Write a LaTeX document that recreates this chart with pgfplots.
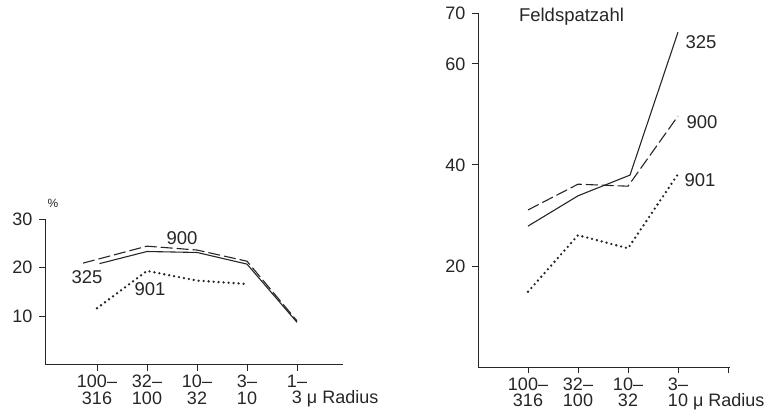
\documentclass[border=0pt]{standalone}
\usepackage{pgfplots}
\pgfplotsset{compat=1.18}
\usepackage{fontspec}
\setmainfont{Liberation Sans}
\begin{document}
\begin{tikzpicture}
\useasboundingbox (0,0) rectangle (778pt,-414pt);
\pgfplotsset{
  chart/.style={
    axis lines*=left,
    axis line style={-, line width=1pt, black!85},
    x=50pt,
    tick align=outside,
    major tick length=6pt,
    tick style={line width=1pt, black!85},
    xtick={0,...,4},
    font=\fontsize{18.5}{17}\selectfont,
    ticklabel style={font=\fontsize{18}{16.5}\selectfont, text=black!85},
    xticklabel style={align=center, yshift=-1pt},
    yticklabel style={xshift=-3pt},
    /pgf/number format/assume math mode=true,
    clip=false,
  },
  s325/.style={black!85, line width=1.1pt},
  s900/.style={black!85, line width=1.1pt, dash pattern=on 12pt off 4pt},
  s901/.style={black!85, line width=2.6pt, line cap=round, dash pattern=on 0pt off 5pt},
}
% left chart
\begin{axis}[chart,
  at={(45pt,-364.5pt)}, anchor=south west,
  y=4.85pt,
  xmin=-1.04, xmax=4.92, ymin=0, ymax=30,
  ytick={10,20,30},
  xticklabels={{100--\\316},{32--\\100},{10--\\32},{3--\\10},{1--\\3\rlap{ μ Radius}}},
]
\addplot[s325] coordinates {(0.05,20.8) (1,23.3) (2,23.1) (3,20.7) (4,8.7)};
\addplot[s900] coordinates {(-0.28,20.9) (1,24.4) (2,23.6) (3,21.3) (4,9.0)};
\addplot[s901] coordinates {(0,11.6) (1,19.3) (2,17.3) (3,16.6)};
\node[text=black!85] at (axis cs:1.7,26.1) {900};
\node[text=black!85] at (axis cs:-0.2,18.0) {325};
\node[text=black!85] at (axis cs:1.06,15.6) {901};
\node[text=black!85, font=\fontsize{12}{12}\selectfont] at (axis cs:-0.88,33.2) {\%};
\end{axis}
% right chart
\begin{axis}[chart,
  at={(478pt,-367pt)}, anchor=south west,
  y=5.05pt,
  xmin=-1, xmax=4.04, ymin=0, ymax=70,
  ytick={20,40,60,70},
  xticklabels={{100--\\316},{32--\\100},{10--\\32},{3--\\10\rlap{ μ Radius}}},
]
\addplot[s325] coordinates {(0,27.9) (1,33.9) (2.04,38.0) (3,66.3)};
\addplot[s900] coordinates {(0,31.1) (1,36.2) (2,35.8) (3,49.7)};
\addplot[s901] coordinates {(0,14.9) (1,26.1) (2,23.5) (3,38.2)};
\node[anchor=west, text=black!85] at (axis cs:3.08,64.4) {325};
\node[anchor=west, text=black!85] at (axis cs:3.1,48.5) {900};
\node[anchor=west, text=black!85] at (axis cs:3.06,37.0) {901};
\node[anchor=west, text=black!85] at (axis cs:-0.25,69.3) {Feldspatzahl};
\end{axis}
\end{tikzpicture}
\end{document}
